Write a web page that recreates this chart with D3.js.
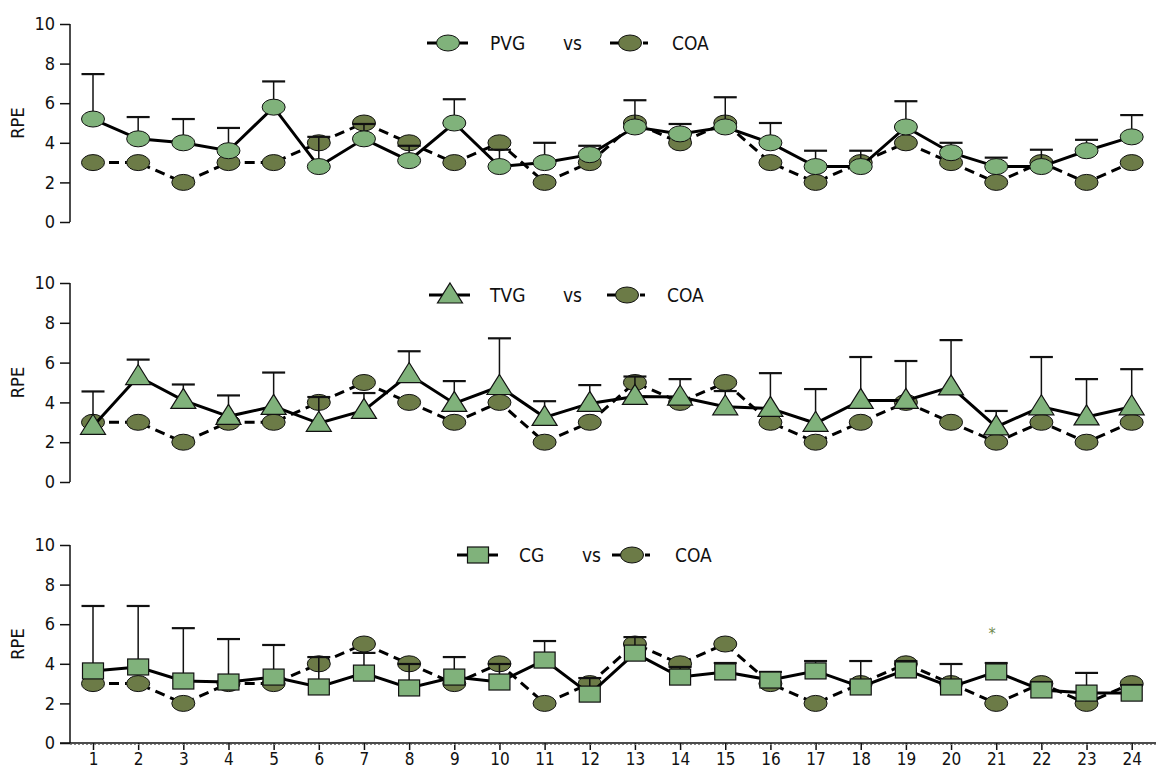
<!DOCTYPE html>
<html>
<head>
<meta charset="utf-8">
<script src="https://cdn.jsdelivr.net/npm/d3@7"></script>
<style>
  body { margin: 0; background: #fff; }
  text { font-family: "Liberation Sans Narrow", "DejaVu Sans Condensed", "Roboto", sans-serif; fill: #111; }
</style>
</head>
<body>
<svg width="1156" height="770"></svg>
<script>
// Data
let sessions = d3.range(1, 25);
let coa = [3, 3, 2, 3, 3, 4, 5, 4, 3, 4, 2, 3, 5, 4, 5, 3, 2, 3, 4, 3, 2, 3, 2, 3];

let pvgMean = [5.2, 4.2, 4.0, 3.6, 5.8, 2.8, 4.2, 3.1, 5.0, 2.8, 3.0, 3.4, 4.8, 4.45, 4.8, 4.0, 2.8, 2.8, 4.8, 3.5, 2.8, 2.8, 3.6, 4.3];
let pvgUpper = [7.47, 5.3, 5.2, 4.75, 7.1, 4.3, 4.95, 3.85, 6.2, 3.65, 4.0, 3.85, 6.15, 4.95, 6.3, 5.0, 3.6, 3.6, 6.1, 4.0, 3.25, 3.65, 4.15, 5.4];

let tvgMean = [2.8, 5.3, 4.1, 3.3, 3.8, 2.95, 3.6, 5.4, 3.95, 4.8, 3.25, 3.95, 4.3, 4.27, 3.78, 3.7, 2.95, 4.1, 4.1, 4.78, 2.77, 3.78, 3.27, 3.78];
let tvgUpper = [4.55, 6.15, 4.9, 4.35, 5.5, 4.27, 4.47, 6.57, 5.07, 7.22, 4.06, 4.87, 5.3, 5.17, 4.57, 5.47, 4.67, 6.28, 6.08, 7.13, 3.57, 6.28, 5.17, 5.67];

let cgMean = [3.64, 3.84, 3.13, 3.08, 3.33, 2.83, 3.53, 2.78, 3.33, 3.08, 4.19, 2.47, 4.54, 3.33, 3.59, 3.18, 3.64, 2.83, 3.69, 2.83, 3.59, 2.68, 2.52, 2.52];
let cgUpper = [6.92, 6.92, 5.8, 5.25, 4.95, 4.34, 4.55, 3.99, 4.34, 3.99, 5.15, 3.28, 5.35, 3.84, 4.04, 3.59, 4.14, 4.14, 4.14, 3.99, 4.04, 3.08, 3.54, 2.93];

let yTicks = [0, 2, 4, 6, 8, 10];

let panels = [
  {name: "PVG", mean: pvgMean, upper: pvgUpper, shape: "circle", top: 24, bottom: 222, legendX: 448, textX: 490, vsX: 563, coaX: 630, coaTextX: 672, legendY: 43},
  {name: "TVG", mean: tvgMean, upper: tvgUpper, shape: "triangle", top: 283, bottom: 482, legendX: 450, textX: 490, vsX: 563, coaX: 627, coaTextX: 667, legendY: 295},
  {name: "CG", mean: cgMean, upper: cgUpper, shape: "square", top: 545, bottom: 743, legendX: 478, textX: 519, vsX: 582, coaX: 632, coaTextX: 675, legendY: 555}
];

let lightGreen = "#80b27b", olive = "#6c7b47";

let svg = d3.select("svg");

let x = d3.scaleLinear().domain([1, 24]).range([93, 1131.7]);

function drawMarker(g, shape, cx, cy, fill) {
  if (shape === "circle") {
    g.append("ellipse").attr("cx", cx).attr("cy", cy).attr("rx", 11.5).attr("ry", 8)
      .attr("fill", fill).attr("stroke", "#111").attr("stroke-width", 1);
  } else if (shape === "triangle") {
    g.append("path")
      .attr("d", `M${cx},${cy - 12}L${cx + 12.5},${cy + 8}L${cx - 12.5},${cy + 8}Z`)
      .attr("fill", fill).attr("stroke", "#111").attr("stroke-width", 1.2);
  } else {
    g.append("rect").attr("x", cx - 10.5).attr("y", cy - 8).attr("width", 21).attr("height", 16)
      .attr("fill", fill).attr("stroke", "#111").attr("stroke-width", 1.2);
  }
}

panels.forEach((p, pi) => {
  let y = d3.scaleLinear().domain([0, 10]).range([p.bottom, p.top]);
  let g = svg.append("g");

  // y axis
  let yAxis = d3.axisLeft(y).tickValues(yTicks).tickSize(10).tickPadding(5);
  let ax = g.append("g").attr("transform", "translate(70,0)").call(yAxis);
  ax.select(".domain").attr("stroke", "#111").attr("stroke-width", 1.5).attr("d", `M0,${p.top}V${p.bottom}`);
  ax.selectAll(".tick line").attr("stroke", "#111").attr("stroke-width", 1.5);
  ax.selectAll(".tick text").style("font-size", "18px").attr("fill", "#111")
    .style("font-family", "'Liberation Sans Narrow', 'DejaVu Sans Condensed', sans-serif");

  g.append("text")
    .attr("transform", `translate(24,${(p.top + p.bottom) / 2}) rotate(-90)`)
    .attr("text-anchor", "middle")
    .style("font-size", "18px")
    .text("RPE");

  // COA dashed line and markers
  let line = d3.line().x((d, i) => x(sessions[i])).y(d => y(d));
  g.append("path").datum(coa).attr("d", line)
    .attr("fill", "none").attr("stroke", "#000").attr("stroke-width", 3).attr("stroke-dasharray", "10,6");
  coa.forEach((v, i) => drawMarker(g, "circle", x(sessions[i]), y(v), olive));

  // error bars (upper only)
  p.upper.forEach((u, i) => {
    let cx = x(sessions[i]);
    g.append("line").attr("x1", cx).attr("x2", cx).attr("y1", y(p.mean[i])).attr("y2", y(u))
      .attr("stroke", "#111").attr("stroke-width", 1.5);
    g.append("line").attr("x1", cx - 11.5).attr("x2", cx + 11.5).attr("y1", y(u)).attr("y2", y(u))
      .attr("stroke", "#111").attr("stroke-width", 2.2);
  });

  // group line and markers
  g.append("path").datum(p.mean).attr("d", line)
    .attr("fill", "none").attr("stroke", "#000").attr("stroke-width", 3);
  p.mean.forEach((v, i) => drawMarker(g, p.shape, x(sessions[i]), y(v), lightGreen));

  // legend
  let ly = p.legendY;
  g.append("line").attr("x1", p.legendX - 21).attr("x2", p.legendX + 20).attr("y1", ly).attr("y2", ly)
    .attr("stroke", "#000").attr("stroke-width", 3);
  drawMarker(g, p.shape, p.legendX, ly, lightGreen);
  g.append("text").attr("x", p.textX).attr("y", ly + 7).style("font-size", "19px").text(p.name);
  g.append("text").attr("x", p.vsX).attr("y", ly + 7).style("font-size", "19px").text("vs");
  g.append("line").attr("x1", p.coaX - 20).attr("x2", p.coaX - 7).attr("y1", ly).attr("y2", ly)
    .attr("stroke", "#000").attr("stroke-width", 3);
  g.append("line").attr("x1", p.coaX + 13).attr("x2", p.coaX + 18).attr("y1", ly).attr("y2", ly)
    .attr("stroke", "#000").attr("stroke-width", 3);
  drawMarker(g, "circle", p.coaX, ly, olive);
  g.append("text").attr("x", p.coaTextX).attr("y", ly + 7).style("font-size", "19px").text("COA");

  // x axis on bottom panel only
  if (pi === 2) {
    let xAxis = d3.axisBottom(x).tickValues(sessions).tickSize(7).tickPadding(3).tickFormat(d3.format("d"));
    let xa = g.append("g").attr("transform", `translate(0,${p.bottom})`).call(xAxis);
    xa.select(".domain").attr("stroke", "#111").attr("stroke-width", 1.5).attr("d", "M60,0H1156");
    xa.selectAll(".tick line").attr("stroke", "#111").attr("stroke-width", 1.5);
    xa.selectAll(".tick text").style("font-size", "17px").attr("fill", "#111")
      .style("font-family", "'Liberation Sans Narrow', 'DejaVu Sans Condensed', sans-serif");
    g.append("line").attr("x1", 70).attr("x2", 1156).attr("y1", p.bottom + 1.5).attr("y2", p.bottom + 1.5)
      .attr("stroke", "#888").attr("stroke-width", 1).attr("stroke-dasharray", "2,2");

    // significance mark at session 21
    g.append("text").attr("x", x(21) - 4).attr("y", y(5.6) + 7)
      .attr("text-anchor", "middle").style("font-size", "16px").style("fill", "#6f8a4f")
      .text("*");
  }
});
</script>
</body>
</html>
